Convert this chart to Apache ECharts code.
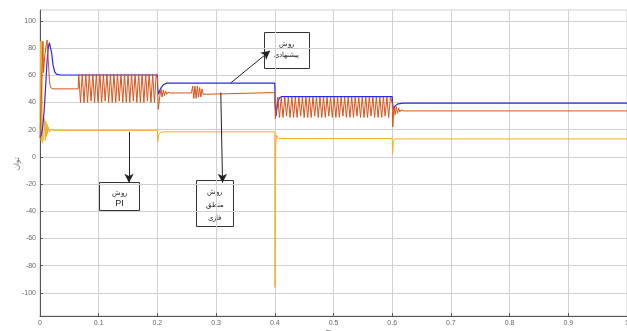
<!doctype html>
<html lang="fa">
<head>
    <meta charset="UTF-8">
    <title>روش پیشنهادی - PI - منطق فازی</title>
    <script type="text/javascript" src="https://cdn.jsdelivr.net/npm/echarts@6/dist/echarts.min.js"></script>
    <style>
        html, body { margin: 0; padding: 0; background: #fff; }
        #container { width: 627px; height: 331px; }
    </style>
</head>
<body>
<div id="container"></div>
<script type="text/javascript">

    // tick labels
    var xTicks = [0, 0.1, 0.2, 0.3, 0.4, 0.5, 0.6, 0.7, 0.8, 0.9, 1];
    var yTicks = [-100, -80, -60, -40, -20, 0, 20, 40, 60, 80, 100];

    // روش پیشنهادی (blue)
    var blueData = [
        [0, 14], [0.002, 16], [0.004, 20], [0.006, 28], [0.008, 40], [0.010, 55], [0.012, 70],
        [0.014, 80], [0.016, 84], [0.018, 83], [0.020, 76], [0.022, 68], [0.025, 62.5],
        [0.028, 60.8], [0.035, 60.2], [0.2, 60.2],
        [0.2005, 50], [0.202, 46], [0.205, 50], [0.21, 53], [0.216, 54.2], [0.4, 54.2],
        [0.4005, 38], [0.402, 30], [0.405, 40], [0.408, 43.5], [0.412, 44.3], [0.6, 44.3],
        [0.6005, 40], [0.602, 35], [0.605, 37.5], [0.61, 39], [0.62, 39.5], [1, 39.5]
    ];

    // روش منطق فازی (orange)
    var orangeStart = [
        [0, 14], [0.002, 40], [0.004, 70], [0.005, 85], [0.006, 62], [0.008, 74], [0.010, 80],
        [0.012, 86], [0.014, 72], [0.016, 56], [0.018, 51], [0.022, 50], [0.065, 50]
    ];
    // oscillation 0.065 - 0.2, half period 0.003 s
    var orangeOsc1 = [
        61, 40, 61, 40, 61, 40, 61, 41, 61, 40, 61, 40, 61, 40, 61, 41, 61, 40, 61, 40,
        61, 40, 61, 41, 61, 40, 61, 40, 61, 40, 61, 41, 61, 40, 61, 40, 61, 40, 61, 41,
        61, 40, 61, 40, 61
    ];
    var orangeMid = [
        [0.2, 58], [0.2015, 35], [0.204, 44], [0.206, 50], [0.208, 44], [0.210, 49], [0.212, 45],
        [0.214, 48.5], [0.216, 46], [0.218, 47.5], [0.222, 47], [0.258, 47],
        [0.260, 52], [0.262, 43], [0.264, 52], [0.266, 43], [0.268, 52], [0.270, 44],
        [0.272, 51], [0.274, 44], [0.276, 50], [0.278, 46], [0.281, 47.3], [0.4, 47.3],
        [0.401, 28], [0.403, 36]
    ];
    // oscillation 0.405 - 0.6, half period 0.003 s
    var orangeOsc2 = [
        44, 29, 44, 29, 44, 30, 44, 29, 44, 29, 44, 29, 44, 30, 44, 29, 44, 29, 44, 29,
        44, 30, 44, 29, 44, 29, 44, 29, 44, 30, 44, 29, 44, 29, 44, 29, 44, 30, 44, 29,
        44, 29, 44, 29, 44, 30, 44, 29, 44, 29, 44, 29, 44, 30, 44, 29, 44, 29, 44, 29,
        44, 30, 44, 29, 44
    ];
    var orangeEnd = [
        [0.6, 40], [0.601, 22], [0.603, 37], [0.605, 31], [0.607, 37], [0.609, 32],
        [0.611, 36], [0.613, 33], [0.615, 34.5], [0.62, 33.8], [1, 33.8]
    ];

    // روش PI (yellow)
    var yellowData = [
        [0, 20], [0.001, 85], [0.002, 12], [0.003, 85], [0.004, 10], [0.006, 14], [0.008, 28],
        [0.009, 12], [0.010, 26], [0.011, 15], [0.012, 24], [0.013, 17], [0.014, 22], [0.016, 18.5],
        [0.018, 20.5], [0.022, 19.5], [0.2, 19.5],
        [0.2005, 11], [0.202, 16], [0.205, 18], [0.21, 18.4], [0.4, 18.4],
        [0.4003, -96], [0.4015, 8], [0.403, 16], [0.406, 13.5], [0.6, 13.5],
        [0.6005, 2], [0.602, 11.5], [0.605, 13.2], [1, 13.2]
    ];

    function oscPoints(t0, step, values) {
        var out = [];
        for (var i = 0; i < values.length; i++) {
            out.push([+(t0 + i * step).toFixed(4), values[i]]);
        }
        return out;
    }

    var orangeData = []
        .concat(orangeStart)
        .concat(oscPoints(0.066, 0.003, orangeOsc1))
        .concat(orangeMid)
        .concat(oscPoints(0.405, 0.003, orangeOsc2))
        .concat(orangeEnd);

    var dom = document.getElementById("container");
    var myChart = echarts.init(dom);

    var arrowStyle = {color: '#222', width: 1, type: 'solid'};

    var option = {
        animation: false,
        backgroundColor: '#fff',
        grid: {
            left: 40, right: 0, top: 10, bottom: 15,
            outerBoundsMode: 'none', containLabel: false,
            show: true, borderColor: '#cfcfcf', borderWidth: 1
        },
        xAxis: {
            type: 'value',
            min: 0,
            max: 1,
            interval: 0.1,
            name: 'Time',
            nameLocation: 'middle',
            nameGap: 14,
            nameMoveOverlap: false,
            nameTextStyle: {fontSize: 7, color: '#555', fontFamily: 'Liberation Sans'},
            axisLine: {onZero: false, lineStyle: {color: '#555'}},
            axisTick: {inside: true, length: 3, lineStyle: {color: '#555'}},
            axisLabel: {
                fontSize: 7, color: '#666', margin: 4, fontFamily: 'Liberation Sans',
                formatter: function (v) {
                    for (var i = 0; i < xTicks.length; i++) {
                        if (Math.abs(v - xTicks[i]) < 1e-6) return String(xTicks[i]);
                    }
                    return '';
                }
            },
            splitLine: {show: true, lineStyle: {color: '#d0d0d0', width: 1}}
        },
        yAxis: {
            type: 'value',
            min: -117,
            max: 108,
            name: 'توان',
            nameLocation: 'middle',
            nameGap: 20,
            nameMoveOverlap: false,
            nameRotate: 90,
            nameTextStyle: {fontSize: 7, color: '#555', fontFamily: 'Noto Sans'},
            axisLine: {show: true, onZero: false, lineStyle: {color: '#555'}},
            axisTick: {inside: true, length: 3, customValues: yTicks, lineStyle: {color: '#555'}},
            axisLabel: {
                fontSize: 7, color: '#666', margin: 4, fontFamily: 'Liberation Sans',
                customValues: yTicks
            },
            splitLine: {show: true, lineStyle: {color: '#d0d0d0', width: 1}}
        },
        series: [
            {
                name: 'روش PI',
                type: 'line',
                data: yellowData,
                showSymbol: false,
                lineStyle: {color: '#edb120', width: 1},
                itemStyle: {color: '#edb120'},
                z: 2
            },
            {
                name: 'روش پیشنهادی',
                type: 'line',
                data: blueData,
                showSymbol: false,
                lineStyle: {color: '#2828f0', width: 1.2},
                itemStyle: {color: '#2828f0'},
                z: 3
            },
            {
                name: 'روش منطق فازی',
                type: 'line',
                data: orangeData,
                showSymbol: false,
                lineStyle: {color: '#d95319', width: 1},
                itemStyle: {color: '#d95319'},
                z: 4,
                markLine: {
                    silent: true,
                    symbol: ['none', 'arrow'],
                    symbolSize: [7, 9],
                    label: {show: false},
                    lineStyle: arrowStyle,
                    data: [
                        [{coord: [0.325, 54.4]}, {coord: [0.392, 78]}],
                        [{coord: [0.1516, 18.4]}, {coord: [0.1516, -19]}],
                        [{coord: [0.308, 47.3]}, {coord: [0.311, -19]}]
                    ]
                }
            }
        ],
        graphic: [
            {
                type: 'group', left: 264, top: 32, children: [
                    {type: 'rect', shape: {x: 0, y: 0, width: 45, height: 36},
                        style: {fill: '#fff', stroke: '#333', lineWidth: 1}},
                    {type: 'text', style: {x: 22, y: 11, text: 'روش', align: 'center', verticalAlign: 'middle',
                            font: '7px "Noto Sans"', fill: '#222'}},
                    {type: 'text', style: {x: 22, y: 22, text: 'پیشنهادی', align: 'center', verticalAlign: 'middle',
                            font: '7px "Noto Sans"', fill: '#222'}}
                ]
            },
            {
                type: 'group', left: 99, top: 182, children: [
                    {type: 'rect', shape: {x: 0, y: 0, width: 40, height: 28},
                        style: {fill: '#fff', stroke: '#333', lineWidth: 1}},
                    {type: 'text', style: {x: 20, y: 10, text: 'روش', align: 'center', verticalAlign: 'middle',
                            font: '7px "Noto Sans"', fill: '#222'}},
                    {type: 'text', style: {x: 20, y: 21, text: 'PI', align: 'center', verticalAlign: 'middle',
                            font: '9px "Liberation Sans"', fill: '#222'}}
                ]
            },
            {
                type: 'group', left: 196, top: 180, children: [
                    {type: 'rect', shape: {x: 0, y: 0, width: 37, height: 46},
                        style: {fill: '#fff', stroke: '#333', lineWidth: 1}},
                    {type: 'text', style: {x: 18, y: 11, text: 'روش', align: 'center', verticalAlign: 'middle',
                            font: '7px "Noto Sans"', fill: '#222'}},
                    {type: 'text', style: {x: 18, y: 24, text: 'منطق', align: 'center', verticalAlign: 'middle',
                            font: '7px "Noto Sans"', fill: '#222'}},
                    {type: 'text', style: {x: 18, y: 37, text: 'فازی', align: 'center', verticalAlign: 'middle',
                            font: '7px "Noto Sans"', fill: '#222'}}
                ]
            }
        ]
    };

    myChart.setOption(option, true);

</script>
</body>
</html>
